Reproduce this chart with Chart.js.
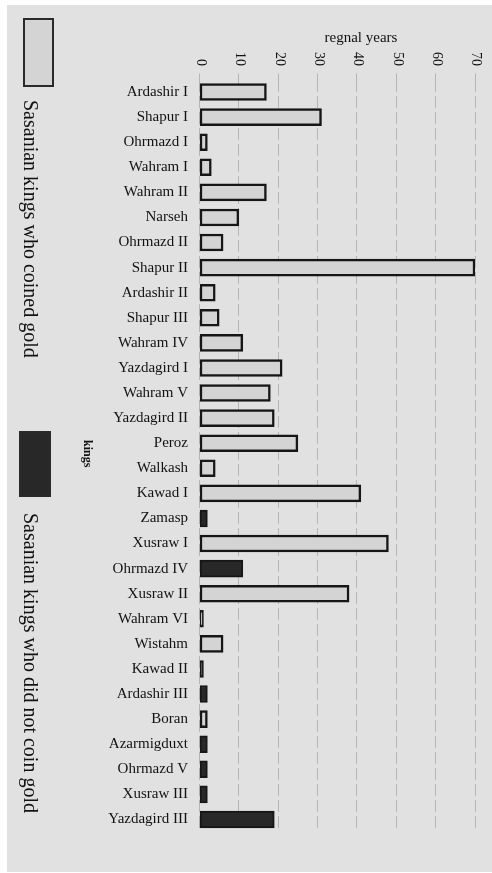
<!DOCTYPE html>
<html>
<head>
<meta charset="utf-8">
<script src="https://cdn.jsdelivr.net/npm/chart.js@4"></script>
<style>
  html, body { margin: 0; padding: 0; background: #fff; }
  #wrap { position: absolute; left: 0; top: 0; width: 492px; height: 873px; }
</style>
</head>
<body>
<div id="wrap"><canvas id="myChart"></canvas></div>
<script>
// regnal years of the Sasanian kings
const kings = ['Ardashir I', 'Shapur I', 'Ohrmazd I', 'Wahram I', 'Wahram II', 'Narseh',
  'Ohrmazd II', 'Shapur II', 'Ardashir II', 'Shapur III', 'Wahram IV', 'Yazdagird I',
  'Wahram V', 'Yazdagird II', 'Peroz', 'Walkash', 'Kawad I', 'Zamasp', 'Xusraw I',
  'Ohrmazd IV', 'Xusraw II', 'Wahram VI', 'Wistahm', 'Kawad II', 'Ardashir III', 'Boran',
  'Azarmigduxt', 'Ohrmazd V', 'Xusraw III', 'Yazdagird III'];

const coinedGold = [17, 31, 2, 3, 17, 10, 6, 70, 4, 5, 11, 21, 18, 19, 25, 4, 41, null, 48,
  null, 38, 1, 6, null, null, 2, null, null, null, null];

const noGold = [null, null, null, null, null, null, null, null, null, null, null, null,
  null, null, null, null, null, 2, null, 11, null, null, null, 1, 2, null, 2, 2, 2, 19];

const yearTicks = [0, 10, 20, 30, 40, 50, 60, 70];
const legendLabels = ['Sasanian kings who coined gold', 'Sasanian kings who did not coin gold'];

const serif = '"Liberation Serif", "DejaVu Serif", serif';
const ink = '#121212';
const lightFill = '#d4d4d4';
const darkFill = '#282828';

// page, rotated tick labels, titles and legend
const decor = {
  id: 'decor',
  beforeDraw(chart) {
    const ctx = chart.ctx;
    ctx.save();
    ctx.fillStyle = '#fff';
    ctx.fillRect(0, 0, chart.width, chart.height);
    ctx.fillStyle = '#e1e1e1';
    ctx.fillRect(7, 5, chart.width - 7, chart.height - 6);
    ctx.restore();
  },
  afterDraw(chart) {
    const ctx = chart.ctx;
    const xs = chart.scales.x;
    ctx.save();
    ctx.fillStyle = ink;

    // x tick labels, turned clockwise
    ctx.font = '14px ' + serif;
    ctx.textAlign = 'right';
    ctx.textBaseline = 'middle';
    yearTicks.forEach(v => {
      ctx.save();
      ctx.translate(xs.getPixelForValue(v) + 1, 66);
      ctx.rotate(Math.PI / 2);
      ctx.fillText(String(v), 0, 0);
      ctx.restore();
    });

    ctx.font = '15px ' + serif;
    ctx.textAlign = 'center';
    ctx.textBaseline = 'alphabetic';
    ctx.fillText('regnal years', 361, 42);

    // y title
    ctx.save();
    ctx.font = 'bold 12px ' + serif;
    ctx.textAlign = 'left';
    ctx.translate(83.5, 440);
    ctx.rotate(Math.PI / 2);
    ctx.fillText('kings', 0, 0);
    ctx.restore();

    // legend
    ctx.lineWidth = 2;
    ctx.strokeStyle = '#2a2a2a';
    ctx.fillStyle = lightFill;
    ctx.fillRect(24, 19, 29, 67);
    ctx.strokeRect(24, 19, 29, 67);
    ctx.fillStyle = darkFill;
    ctx.fillRect(20, 432, 30, 64);
    ctx.strokeRect(20, 432, 30, 64);

    ctx.fillStyle = ink;
    ctx.font = '20px ' + serif;
    ctx.textAlign = 'left';
    [[24, 100], [24, 513]].forEach((p, i) => {
      ctx.save();
      ctx.translate(p[0], p[1]);
      ctx.rotate(Math.PI / 2);
      ctx.fillText(legendLabels[i], 0, 0);
      ctx.restore();
    });
    ctx.restore();
  }
};

const ctx = document.getElementById('myChart');
new Chart(ctx, {
  type: 'bar',
  data: {
    labels: kings,
    datasets: [{
      label: legendLabels[0],
      data: coinedGold,
      backgroundColor: lightFill,
      borderColor: '#161616',
      borderWidth: 2.5,
      borderSkipped: false,
      barThickness: 17,
      grouped: false
    }, {
      label: legendLabels[1],
      data: noGold,
      backgroundColor: darkFill,
      borderColor: '#161616',
      borderWidth: 2,
      borderSkipped: false,
      barThickness: 17,
      grouped: false
    }]
  },
  options: {
    indexAxis: 'y',
    responsive: true,
    maintainAspectRatio: false,
    animation: false,
    layout: { padding: { top: 0, right: 17, bottom: 41, left: 0 } },
    plugins: {
      legend: { display: false },
      tooltip: { enabled: false }
    },
    scales: {
      x: {
        position: 'top',
        min: 0,
        max: 70,
        ticks: { display: false, stepSize: 10 },
        grid: { color: 'rgba(70,70,70,0.28)', lineWidth: 1, drawTicks: true, tickLength: 6 },
        border: { display: false, dash: [12, 4] },
        afterFit(scale) { scale.height = 79.5; }
      },
      y: {
        ticks: { font: { family: serif, size: 15 }, color: ink, padding: 11.5, autoSkip: false },
        grid: { display: false, drawTicks: false },
        border: { display: false },
        afterFit(scale) { scale.width = 199.5; }
      }
    }
  },
  plugins: [decor]
});
</script>
</body>
</html>
